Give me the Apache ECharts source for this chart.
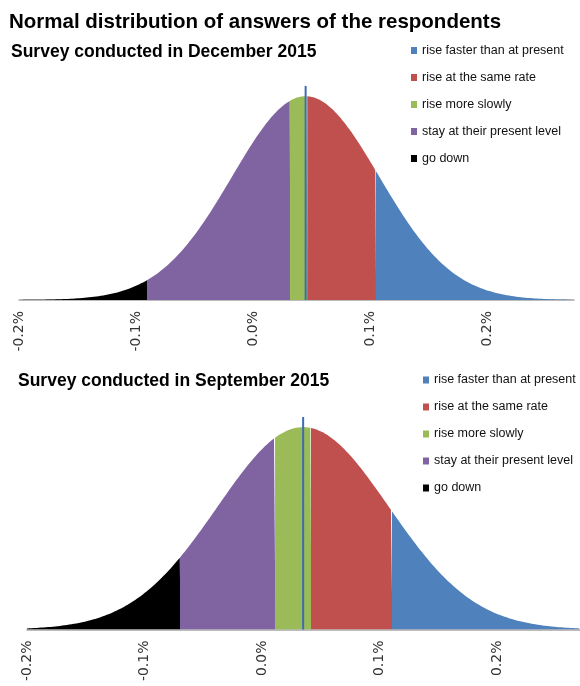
<!DOCTYPE html>
<html><head><meta charset="utf-8">
<script src="https://cdn.jsdelivr.net/npm/echarts@6/dist/echarts.min.js"></script>
<style>html,body{margin:0;padding:0;background:#fff}#c{width:580px;height:686px}</style>
</head><body><div id="c"></div>
<script>
// ---- data ----
const chartTitle = 'Normal distribution of answers of the respondents';
const panelTitles = ['Survey conducted in December 2015', 'Survey conducted in September 2015'];
const categories = ['rise faster than at present', 'rise at the same rate', 'rise more slowly', 'stay at their present level', 'go down'];
const colors = ['#4F81BD', '#C0504D', '#9BBB59', '#8064A2', '#000000'];
const tickLabels = ['-0.2%', '-0.1%', '0.0%', '0.1%', '0.2%'];
// normal distribution parameters (in %)
const decMean = 0.045, decSd = 0.0628;
// segment borders from left: go down | stay | more slowly | same rate | faster
const decBounds = [-0.2, -0.0906, 0.0316, 0.0464, 0.1049, 0.2744];
const sepMean = 0.035, sepSd = 0.0729;
const sepBounds = [-0.2, -0.0698, 0.0111, 0.0417, 0.1106, 0.2706];

// ---- build ----
const leftToCat = [4, 3, 2, 1, 0];
function curve(m, s, a, b) {
  const pts = [];
  const step = 0.001;
  for (let x = a; x < b; x += step) pts.push([x, Math.exp(-(x - m) * (x - m) / (2 * s * s))]);
  pts.push([b, Math.exp(-(b - m) * (b - m) / (2 * s * s))]);
  return pts;
}
function panelSeries(idx, m, s, bounds) {
  const out = [];
  for (let i = 0; i < 5; i++) {
    const c = leftToCat[i];
    const b = i < 4 ? bounds[i + 1] + 0.0004 : bounds[i + 1];
    out.push({
      type: 'line', name: categories[c], xAxisIndex: idx, yAxisIndex: idx,
      data: curve(m, s, bounds[i], b),
      showSymbol: false, symbol: 'none', smooth: false,
      lineStyle: { width: 0, color: colors[c] }, itemStyle: { color: colors[c] },
      areaStyle: { color: colors[c], opacity: 1 }, silent: true, z: 2 + i
    });
  }
  out.push({
    type: 'line', name: 'mean', xAxisIndex: idx, yAxisIndex: idx,
    data: [[m, 0], [m, 1.05]], showSymbol: false, symbol: 'none',
    lineStyle: { width: 2, color: '#3C6CB2' }, silent: true, z: 10
  });
  return out;
}
function fmt(v) {
  const k = Math.round((v + 0.2) / 0.1);
  if (Math.abs(v - (-0.2 + k * 0.1)) > 1e-6 || k < 0 || k >= tickLabels.length) return '';
  return tickLabels[k];
}
function xAxis(idx, min, max) {
  return {
    type: 'value', gridIndex: idx, min: min, max: max, interval: 0.1,
    axisLine: { show: true, onZero: false, lineStyle: { color: '#A6A6A6', width: 1.5 } },
    axisTick: { show: false }, splitLine: { show: false },
    axisLabel: { rotate: 90, margin: 11, fontSize: 14, fontFamily: 'DejaVu Sans', color: '#333333',
      showMaxLabel: false, formatter: fmt }
  };
}
function legend(left, top) {
  return {
    orient: 'vertical', left: left, top: top, padding: 0, icon: 'rect',
    itemWidth: 6, itemHeight: 7, itemGap: 13, selectedMode: false,
    data: categories,
    textStyle: { fontFamily: 'Liberation Sans', fontSize: 12.5, color: '#111111', lineHeight: 14 }
  };
}
const chart = echarts.init(document.getElementById('c'));
chart.setOption({
  animation: false,
  backgroundColor: '#fff',
  title: [
    { text: chartTitle, left: 9, top: 12, padding: 0,
      textStyle: { fontFamily: 'Liberation Sans', fontWeight: 'bold', fontSize: 20.5, color: '#000' } },
    { text: panelTitles[0], left: 11, top: 43, padding: 0,
      textStyle: { fontFamily: 'Liberation Sans', fontWeight: 'bold', fontSize: 17.5, color: '#000' } },
    { text: panelTitles[1], left: 18, top: 372, padding: 0,
      textStyle: { fontFamily: 'Liberation Sans', fontWeight: 'bold', fontSize: 17.5, color: '#000' } }
  ],
  legend: [legend(411, 43.5), legend(423, 373)],
  grid: [
    { left: 19, width: 555, top: 86, height: 214 },
    { left: 27, width: 553, top: 417, height: 212.5 }
  ],
  xAxis: [xAxis(0, decBounds[0], decBounds[5]), xAxis(1, sepBounds[0], sepBounds[5])],
  yAxis: [
    { type: 'value', gridIndex: 0, min: 0, max: 1.05, show: false },
    { type: 'value', gridIndex: 1, min: 0, max: 1.05, show: false }
  ],
  series: panelSeries(0, decMean, decSd, decBounds).concat(panelSeries(1, sepMean, sepSd, sepBounds))
});
</script>
</body></html>
